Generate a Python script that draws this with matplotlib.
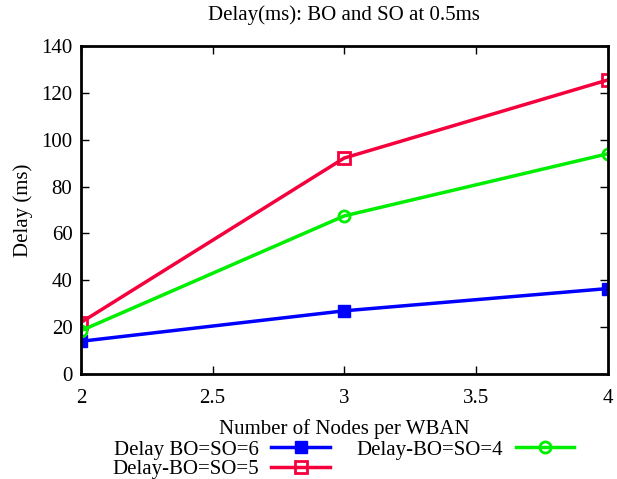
import matplotlib
matplotlib.use("Agg")
import matplotlib.pyplot as plt

nodes = [2, 3, 4]
delay_so6 = [14.0, 27.0, 36.5]
delay_so5 = [22.0, 92.2, 125.5]
delay_so4 = [18.5, 67.5, 94.0]

plt.rcParams["font.family"] = ["Liberation Serif"]
plt.rcParams["font.size"] = 15

fig = plt.figure(figsize=(6.17, 4.79), dpi=100)
ax = fig.add_axes([0.131, 0.219, 0.854, 0.685])

ax.plot(nodes, delay_so6, "-s", color="#0000ff", lw=2.5, ms=8,
        label="Delay BO=SO=6")
ax.plot(nodes, delay_so5, "-s", color="#f5003d", lw=2.5, ms=8, mfc="none",
        mew=2, label="Delay-BO=SO=5")
ax.plot(nodes, delay_so4, "-o", color="#00ee00", lw=2.5, ms=8, mfc="none",
        mew=2, label="Delay-BO=SO=4")

ax.set_xlim(2, 4)
ax.set_ylim(0, 140)
ax.set_xticks([2, 2.5, 3, 3.5, 4])
ax.set_xticklabels(["2", "2.5", "3", "3.5", "4"])
ax.set_yticks(range(0, 141, 20))
ax.tick_params(direction="in", top=True, right=True, length=6, width=1,
               labelsize=15, pad=11)
ax.tick_params(axis="y", pad=6)
for s in ax.spines.values():
    s.set_linewidth(2)

ax.set_xlabel("Number of Nodes per WBAN", fontsize=15, labelpad=8)
ax.set_ylabel("Delay (ms)", fontsize=15, labelpad=6)
ax.set_title("Delay(ms): BO and SO at 0.5ms", fontsize=15, pad=19)

fig.legend(loc="upper left", bbox_to_anchor=(0.165, 0.103), ncol=2,
           frameon=False, markerfirst=False, fontsize=15, handlelength=2.8,
           columnspacing=1.3, labelspacing=0.0, borderpad=0, handletextpad=0.6)

fig.savefig("out.png", dpi=100)
